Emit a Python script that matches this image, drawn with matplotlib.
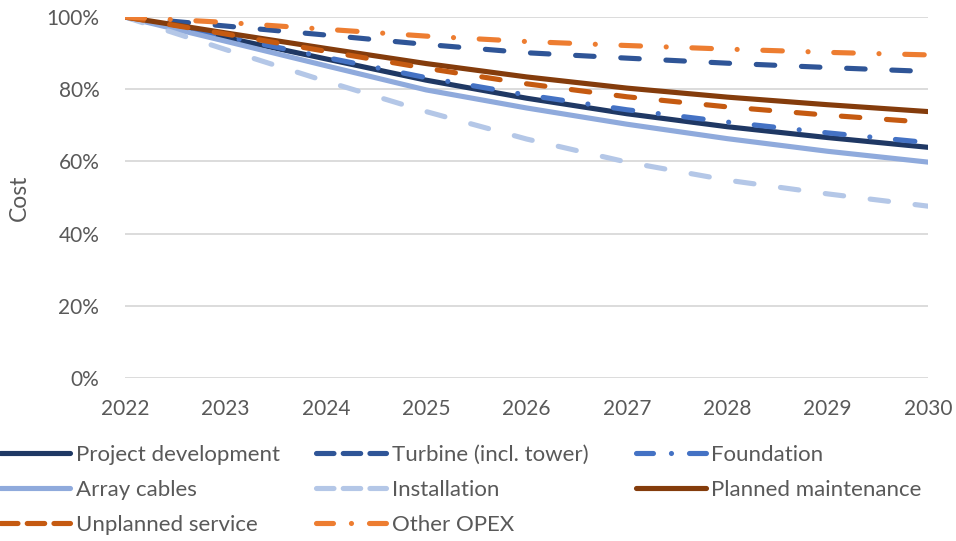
import matplotlib
matplotlib.use("Agg")
from matplotlib import pyplot as plt
from matplotlib.lines import Line2D
from matplotlib.ticker import PercentFormatter

plt.rcParams['font.family'] = ['Lato', 'DejaVu Sans']

years = [2022, 2023, 2024, 2025, 2026, 2027, 2028, 2029, 2030]

# cost relative to 2022 (%)
project_development = [100, 94.3, 88.4, 82.5, 77.5, 73.2, 69.6, 66.6, 63.9]
turbine = [100, 97.5, 95.0, 92.4, 90.1, 88.6, 87.2, 86.0, 84.9]
foundation = [100, 94.6, 88.8, 83.2, 78.4, 74.3, 70.9, 67.9, 65.2]
array_cables = [100, 93.3, 86.5, 79.8, 74.8, 70.3, 66.3, 62.8, 59.8]
installation = [100, 91.0, 82.2, 73.8, 66.2, 59.8, 54.8, 51.0, 47.6]
planned_maintenance = [100, 95.6, 91.3, 87.1, 83.4, 80.3, 77.8, 75.7, 73.8]
unplanned_service = [100, 95.3, 90.5, 85.8, 81.5, 77.9, 75.1, 72.8, 70.8]
other_opex = [100, 98.5, 96.6, 94.7, 93.2, 92.1, 91.1, 90.2, 89.5]

labels = ["Project development", "Turbine (incl. tower)", "Foundation",
          "Array cables", "Installation", "Planned maintenance",
          "Unplanned service", "Other OPEX"]
series = [project_development, turbine, foundation, array_cables,
          installation, planned_maintenance, unplanned_service, other_opex]
colors = ["#1F3864", "#2F5597", "#4472C4", "#8FAADC",
          "#B4C7E7", "#843C0C", "#C55A11", "#ED7D31"]
long_dash = (3.6, 5.2)
dash_dot = (3.8, 5.0, 0.01, 5.0)
styles = [None, long_dash, dash_dot, None, long_dash, None, long_dash, dash_dot]
# the legend keys are short, so they use tighter patterns (like Excel)
key_dash = (3.4, 1.8)
key_dash_dot = (3.3, 3.5, 0.01, 3.5)
key_styles = [None, key_dash, key_dash_dot, None, key_dash,
              None, key_dash, key_dash_dot]

text_color = "#595959"
fs = 15
lw = 3.7

fig = plt.figure(figsize=(9.56, 5.41), dpi=100)
ax = fig.add_axes([0.1308, 0.3013, 0.8399, 0.6673])

keys = []
for vals, lab, col, st, kst in zip(series, labels, colors, styles, key_styles):
    line, = ax.plot(years, [v / 100 for v in vals], color=col, lw=lw,
                    solid_capstyle='round', dash_capstyle='round', label=lab)
    if st is not None:
        line.set_dashes(st)
    key = Line2D([], [], color=col, lw=lw, solid_capstyle='round',
                 dash_capstyle='round')
    if kst is not None:
        key.set_dashes(kst)
    keys.append(key)

ax.set_xlim(2022, 2030)
ax.set_ylim(0, 1)
ax.set_yticks([0, 0.2, 0.4, 0.6, 0.8, 1.0])
ax.yaxis.set_major_formatter(PercentFormatter(1.0, decimals=0))
ax.set_xticks(years)
ax.grid(axis='y', color="#D9D9D9", lw=1.3)
ax.set_axisbelow(True)
for s in ax.spines.values():
    s.set_visible(False)
ax.tick_params(length=0, labelsize=fs, colors=text_color)
ax.tick_params(axis='y', pad=18.5)
ax.tick_params(axis='x', pad=15)
for t in ax.get_xticklabels() + ax.get_yticklabels():
    t.set_clip_on(False)
ax.set_ylabel("Cost", fontsize=16.5, color=text_color)
ax.yaxis.set_label_coords(-0.118, 0.5)

# legend laid out row by row: one legend per column
columns = [[0, 3, 6], [1, 4, 7], [2, 5]]
col_x = [0.0, 0.331, 0.665]
for idx, x0 in zip(columns, col_x):
    fig.legend([keys[i] for i in idx], [labels[i] for i in idx],
               loc='upper left', bbox_to_anchor=(x0, 0.178),
               frameon=False, fontsize=16, labelcolor=text_color,
               handlelength=3.15, handletextpad=0.25,
               labelspacing=0.68, borderpad=0, borderaxespad=0)

fig.savefig("out.png", dpi=100)
